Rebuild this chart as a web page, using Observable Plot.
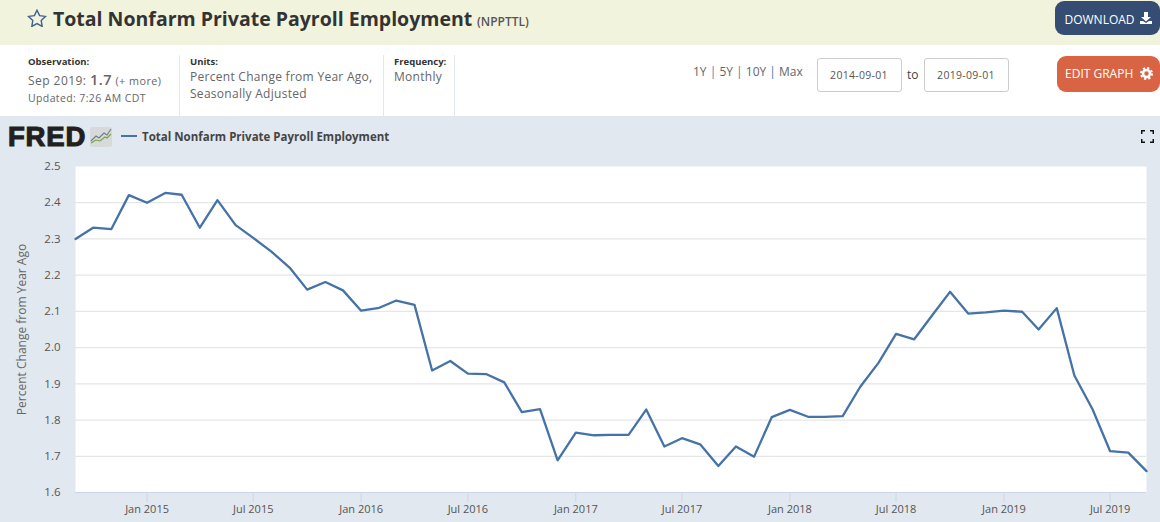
<!DOCTYPE html>
<html><head><meta charset="utf-8">
<script src="https://cdn.jsdelivr.net/npm/d3@7"></script>
<script src="https://cdn.jsdelivr.net/npm/@observablehq/plot@0.6"></script>
<style>
html,body{margin:0;padding:0;background:#fff;overflow:hidden}
body{width:1160px;height:522px;position:relative;font-family:"Open Sans",sans-serif;color:#555}
.a{position:absolute;white-space:nowrap}
.band{position:absolute;left:0;top:0;width:1160px;height:45px;background:#f1f3dd}
.lab{font-size:9.5px;font-weight:700;color:#333}
.val{font-size:12px;letter-spacing:.28px;color:#666;line-height:17px}
.sep{position:absolute;top:55px;width:1px;height:61px;background:#e1e8ef}
.box{position:absolute;top:58px;width:83px;height:32px;border:1px solid #ccc;border-radius:3px;font-size:10.5px;letter-spacing:.3px;color:#555;text-align:center;line-height:33px;background:#fff}
.btn{position:absolute;color:#fff;font-size:12px;text-align:left;box-sizing:border-box}
#chart{position:absolute;left:0;top:116px;width:1160px;height:406px;background:#e1e8ef}
#chart svg{display:block;background:#e1e8ef}
</style></head><body>
<div class="band"></div>
<svg class="a" style="left:27px;top:9px" width="20" height="18" viewBox="0 0 20 18"><path d="M10 1.2l2.6 5.4 5.9.8-4.3 4.1 1 5.9L10 14.6l-5.2 2.8 1-5.9L1.500 7.400l5.900-.8z" fill="none" stroke="#3f5f8f" stroke-width="1.400"/></svg>
<div class="a" style="left:53px;top:5px;font-size:19.5px;font-weight:700;color:#333;letter-spacing:0">Total Nonfarm Private Payroll Employment</div>
<div class="a" style="left:477px;top:13px;font-size:12px;font-weight:600;color:#555">(NPPTTL)</div>
<div class="btn" style="left:1055px;top:1px;width:105px;height:34px;background:#354d72;border-radius:9px;padding:10px 0 0 9.500px">DOWNLOAD<svg style="position:absolute;left:84px;top:10px" width="14" height="14" viewBox="0 0 14 14"><path d="M5 1h4v5h3L7 10.500 2 6h3zM1 10h3l3 2 3-2h3v3H1z" fill="#fff"/></svg></div>

<div class="a lab" style="left:28px;top:55px">Observation:</div>
<div class="a val" style="left:28px;top:71px;letter-spacing:.45px">Sep 2019: <span style="font-size:14.5px;font-weight:600">1.7</span> <span style="font-size:10.8px">(+ more)</span></div>
<div class="a val" style="left:28px;top:90px;font-size:10.500px;letter-spacing:.38px">Updated: 7:26 AM CDT</div>
<div class="sep" style="left:179px"></div>
<div class="a lab" style="left:190px;top:55px">Units:</div>
<div class="a val" style="left:190px;top:68px">Percent Change from Year Ago,</div>
<div class="a val" style="left:190px;top:85px">Seasonally Adjusted</div>
<div class="sep" style="left:383px"></div>
<div class="a lab" style="left:394px;top:55px">Frequency:</div>
<div class="a val" style="left:394px;top:68px">Monthly</div>
<div class="sep" style="left:454px"></div>
<div class="a val" style="left:693px;top:63px;letter-spacing:0">1Y <span style="color:#4a7ab0">|</span> 5Y <span style="color:#4a7ab0">|</span> 10Y <span style="color:#4a7ab0">|</span> Max</div>
<div class="box" style="left:817px;text-indent:-1px">2014-09-01</div>
<div class="a" style="left:907px;top:66px;font-size:12px;color:#444">to</div>
<div class="box" style="left:924px;text-indent:-1px">2019-09-01</div>
<div class="btn" style="left:1057px;top:56px;width:103px;height:36px;background:#d96444;border-radius:9px;padding:9px 0 0 8px">EDIT GRAPH<svg style="position:absolute;left:83px;top:11px" width="13" height="13" viewBox="0 0 13 13"><circle cx="6.500" cy="6.500" r="3.500" fill="none" stroke="#fff" stroke-width="2.600"/><circle cx="6.500" cy="6.500" r="5.500" fill="none" stroke="#fff" stroke-width="2" stroke-dasharray="2.200 2.120"/></svg></div>

<div id="chart"></div>

<div class="a" style="left:8px;top:119px;font-family:'Liberation Sans',sans-serif;font-weight:700;font-size:27.5px;line-height:36px;color:#231f20;-webkit-text-stroke:1.100px #231f20;letter-spacing:.8px">FRED</div>
<svg class="a" style="left:90px;top:127px" width="22" height="20" viewBox="0 0 22 20"><rect width="22" height="20" rx="2" fill="#d6dadb"/><path d="M1 14l5-5 3 2 5-5 3 2 4-6" fill="none" stroke="#6f7d86" stroke-width="1.100"/><path d="M1 16l5-3 4 1 5-4 2 1 4-4" fill="none" stroke="#7ea043" stroke-width="1.100"/></svg>
<div class="a" style="left:121px;top:135px;width:16px;height:2px;background:#4572a7"></div>
<div class="a" style="left:142px;top:129px;font-size:11.500px;font-weight:700;color:#444">Total Nonfarm Private Payroll Employment</div>
<svg class="a" style="left:1141px;top:130px" width="13" height="13" viewBox="0 0 13 13"><path d="M0.700 4V.7H4M9 .7h3.300V4M12.300 9v3.300H9M4 12.300H.7V9" fill="none" stroke="#111" stroke-width="1.500"/></svg>

<script>
const startMonth = "2014-09-01";
const values = [2.300,2.331,2.327,2.421,2.400,2.427,2.422,2.331,2.407,2.338,2.303,2.265,2.221,2.160,2.181,2.158,
2.102,2.110,2.130,2.118,1.937,1.963,1.928,1.927,1.904,1.822,1.830,1.689,
1.765,1.758,1.759,1.759,1.829,1.727,1.750,1.733,1.673,1.727,1.699,1.808,
1.828,1.809,1.809,1.811,1.892,1.958,2.038,2.023,2.090,2.154,2.094,2.097,
2.102,2.099,2.050,2.109,1.923,1.830,1.714,1.710,1.659];
const yTicks = [1.6,1.7,1.8,1.9,2.0,2.1,2.2,2.3,2.4,2.5];
const xTicks = ["2015-01-01","2015-07-01","2016-01-01","2016-07-01","2017-01-01","2017-07-01","2018-01-01","2018-07-01","2019-01-01","2019-07-01"].map(d=>new Date(d));
const yLabel = "Percent Change from Year Ago";
const dates = d3.utcMonth.range(new Date(startMonth), d3.utcMonth.offset(new Date(startMonth), values.length));
const rows = values.map((v,i)=>({date:dates[i],value:v}));
const chart = Plot.plot({
  width:1160,height:406,
  marginTop:50,marginBottom:30,marginLeft:75,marginRight:14,
  style:{background:"#e1e8ef",fontFamily:"'Open Sans',sans-serif",fontSize:"11px",color:"#555"},
  x:{type:"utc",domain:[dates[0],dates[dates.length-1]]},
  y:{domain:[1.6,2.5]},
  marks:[
    Plot.frame({fill:"#fff",stroke:null}),
    Plot.ruleY(yTicks.slice(1,-1),{stroke:"#e6e6e6",strokeWidth:1.200}),
    Plot.ruleY([1.6],{stroke:"#ccd6eb",strokeWidth:1}),
    Plot.axisX({ticks:xTicks,tickFormat:d3.utcFormat("%b %Y"),tickSize:10,tickPadding:3,stroke:"#ccd6eb",fill:"#555",fontSize:11,label:null}),
    Plot.axisY({ticks:yTicks,tickFormat:d3.format(".1f"),tickSize:0,tickPadding:15,fill:"#555",fontSize:11.500,label:null}),
    Plot.text([yLabel],{frameAnchor:"left",textAnchor:"middle",dx:-53,rotate:-90,fill:"#666",fontSize:12}),
    Plot.line(rows,{x:"date",y:"value",stroke:"#4572a7",strokeWidth:2.300,curve:"linear",strokeLinejoin:"round"})
  ]
});
document.getElementById("chart").appendChild(chart);
</script>
</body></html>
